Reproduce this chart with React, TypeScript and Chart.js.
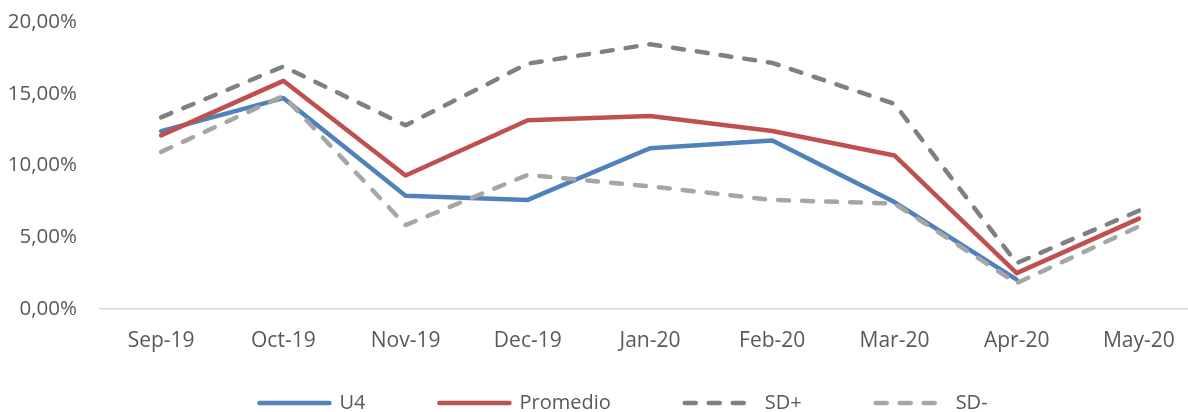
import React, { useEffect, useRef } from "react";
import { Chart, registerables } from "chart.js";

Chart.register(...registerables);

const categories = ["Sep-19", "Oct-19", "Nov-19", "Dec-19", "Jan-20", "Feb-20", "Mar-20", "Apr-20", "May-20"];
const u4 = [12.4, 14.7, 7.9, 7.6, 11.2, 11.75, 7.45, 2.05, null];
const promedio = [12.1, 15.9, 9.3, 13.15, 13.45, 12.4, 10.7, 2.5, 6.3];
const sdPlus = [13.35, 16.9, 12.8, 17.1, 18.45, 17.15, 14.3, 3.2, 6.85];
const sdMinus = [10.95, 14.85, 5.85, 9.35, 8.55, 7.6, 7.35, 1.8, 5.75];
const yTicks = [0, 5, 10, 15, 20];

const FONT = "'Open Sans', sans-serif";
const TEXT = "#595959";

export default function App() {
  const ref = useRef<HTMLCanvasElement | null>(null);

  useEffect(() => {
    if (!ref.current) return;
    const mk = (label: string, data: (number | null)[], color: string, dash: number[], order: number) => ({
      label,
      data,
      borderColor: color,
      backgroundColor: color,
      borderWidth: 4.5,
      borderDash: dash,
      borderCapStyle: "round",
      borderJoinStyle: "round",
      pointRadius: 0,
      pointHoverRadius: 0,
      tension: 0,
      fill: false,
      spanGaps: false,
      order,
    });
    const chart = new Chart(ref.current, {
      type: "line",
      data: {
        labels: categories,
        datasets: [
          mk("U4", u4, "#4F81BD", [], 4),
          mk("Promedio", promedio, "#C0504D", [], 3),
          mk("SD+", sdPlus, "#808080", [11, 13], 2),
          mk("SD-", sdMinus, "#A6A6A6", [11, 13], 1),
        ] as any,
      },
      options: {
        responsive: false,
        animation: false,
        devicePixelRatio: 1,
        layout: { padding: { top: 22, left: 0, right: 0, bottom: 0 } },
        plugins: {
          tooltip: { enabled: false },
          legend: {
            position: "bottom",
            maxHeight: 93,
            labels: {
              usePointStyle: true,
              pointStyle: "line",
              pointStyleWidth: 70,
              padding: 74,
              color: TEXT,
              font: { family: FONT, size: 20 },
              generateLabels: (c: any) =>
                c.data.datasets.map((ds: any, i: number) => ({
                  text: ds.label,
                  fillStyle: ds.borderColor,
                  strokeStyle: ds.borderColor,
                  fontColor: TEXT,
                  lineWidth: 4.5,
                  lineDash: ds.borderDash || [],
                  lineCap: "round",
                  pointStyle: "line",
                  hidden: false,
                  datasetIndex: i,
                })),
            },
          },
        },
        scales: {
          x: {
            type: "category",
            offset: true,
            grid: { display: false, drawTicks: false },
            border: { display: true, color: "#D9D9D9", width: 1.5 },
            ticks: {
              color: TEXT,
              font: { family: FONT, size: 21 },
              mirror: true,
              padding: -45,
              maxRotation: 0,
              autoSkip: false,
            },
            afterFit: (s: any) => {
              s.height = 10;
            },
          },
          y: {
            type: "linear",
            position: "left",
            min: 0,
            max: 20,
            grid: { display: false, drawTicks: false },
            border: { display: false },
            afterBuildTicks: (s: any) => {
              s.ticks = yTicks.map((v) => ({ value: v }));
            },
            ticks: {
              color: TEXT,
              font: { family: FONT, size: 20.5 },
              padding: 23,
              callback: (v: any) => Number(v).toFixed(2).replace(".", ",") + "%",
            },
            afterFit: (s: any) => {
              s.width = 100;
              s.paddingTop = 0;
              s.paddingBottom = 0;
            },
          },
          yr: {
            type: "linear",
            axis: "y",
            position: "right",
            display: true,
            grid: { display: false, drawTicks: false },
            border: { display: false },
            ticks: { display: false },
            afterFit: (s: any) => {
              s.width = 47;
              s.paddingTop = 0;
              s.paddingBottom = 0;
            },
          },
        },
      } as any,
    });
    return () => chart.destroy();
  }, []);

  return (
    <div style={{ position: "fixed", left: 0, top: 0, width: 1188, height: 412, overflow: "hidden", background: "#fff" }}>
      <canvas ref={ref} width={1247} height={412} style={{ display: "block" }} />
    </div>
  );
}
